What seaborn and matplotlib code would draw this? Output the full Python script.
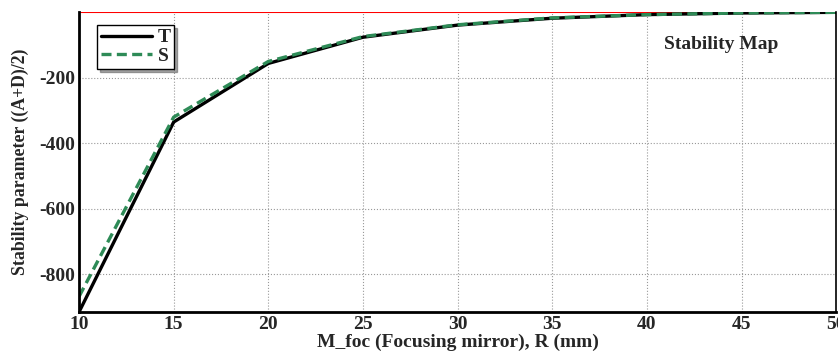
import pandas as pd
import numpy as np
import seaborn as sns
import matplotlib.pyplot as plt
from matplotlib.ticker import MultipleLocator

# values
radius = [10, 15, 20, 25, 30, 35, 40, 45, 50]
t_vals = [-916, -336, -157, -77, -40, -19, -8, -3, -1]
s_vals = [-869, -321, -151, -75, -39, -18, -8, -3, -1]

df = pd.DataFrame({
    'R': radius * 2,
    'value': t_vals + s_vals,
    'series': ['T'] * len(radius) + ['S'] * len(radius),
})

sns.set_style('white')
plt.rcParams['font.family'] = ['Liberation Serif', 'DejaVu Serif']
plt.rcParams['font.weight'] = 'bold'
plt.rcParams['axes.unicode_minus'] = False

fig = plt.figure(figsize=(8.38, 3.54), dpi=100)
ax = fig.add_axes([0.0943, 0.1186, 0.9035, 0.8475])

sns.lineplot(data=df, x='R', y='value', hue='series', style='series',
             palette={'T': 'black', 'S': '#2e8b57'},
             dashes={'T': '', 'S': (3, 1.6)}, linewidth=2.4, ax=ax, legend=False)

ax.axhline(0, color='red', lw=1.5, zorder=1)

ax.set_xlim(10, 50)
ax.set_ylim(-916, 0)
ax.xaxis.set_major_locator(MultipleLocator(5))
ax.xaxis.set_minor_locator(MultipleLocator(1))
ax.set_yticks([-200, -400, -600, -800])
ax.yaxis.set_minor_locator(MultipleLocator(40))
ax.tick_params(which='both', direction='in', labelsize=14)
ax.tick_params(which='major', length=5, width=1, pad=3)
ax.tick_params(which='minor', length=2.5, width=0.8, color='#555555')
for lab in ax.get_xticklabels() + ax.get_yticklabels():
    lab.set_fontweight('bold')
ax.grid(True, which='major', linestyle=':', color='#999999', linewidth=0.8)

for side in ['left', 'bottom']:
    ax.spines[side].set_linewidth(2)
    ax.spines[side].set_color('black')
ax.spines['right'].set_linewidth(1.2)
ax.spines['right'].set_color('black')
ax.spines['top'].set_visible(False)

ax.set_xlabel('M_foc (Focusing mirror), R (mm)', fontsize=14, fontweight='bold', labelpad=0.5)
ax.set_ylabel('Stability parameter ((A+D)/2)', fontsize=12.8, fontweight='bold', labelpad=7)

ax.text(0.848, 0.893, 'Stability Map', transform=ax.transAxes, ha='center', va='center',
        fontsize=14, fontweight='bold')

h_t, = ax.plot([], [], color='black', lw=2.4, label='T')
h_s, = ax.plot([], [], color='#2e8b57', lw=2.4, ls=(0, (3, 1.6)), label='S')
leg = ax.legend(handles=[h_t, h_s], loc='upper left', bbox_to_anchor=(0.024, 0.957),
                prop={'family': 'Liberation Serif', 'weight': 'bold', 'size': 14},
                frameon=True, fancybox=False, shadow=True, handlelength=2.6,
                borderpad=0.2, labelspacing=0.05, handletextpad=0.3, borderaxespad=0)
leg.get_frame().set_edgecolor('black')
leg.get_frame().set_linewidth(1)

fig.savefig('out.png', dpi=100)
